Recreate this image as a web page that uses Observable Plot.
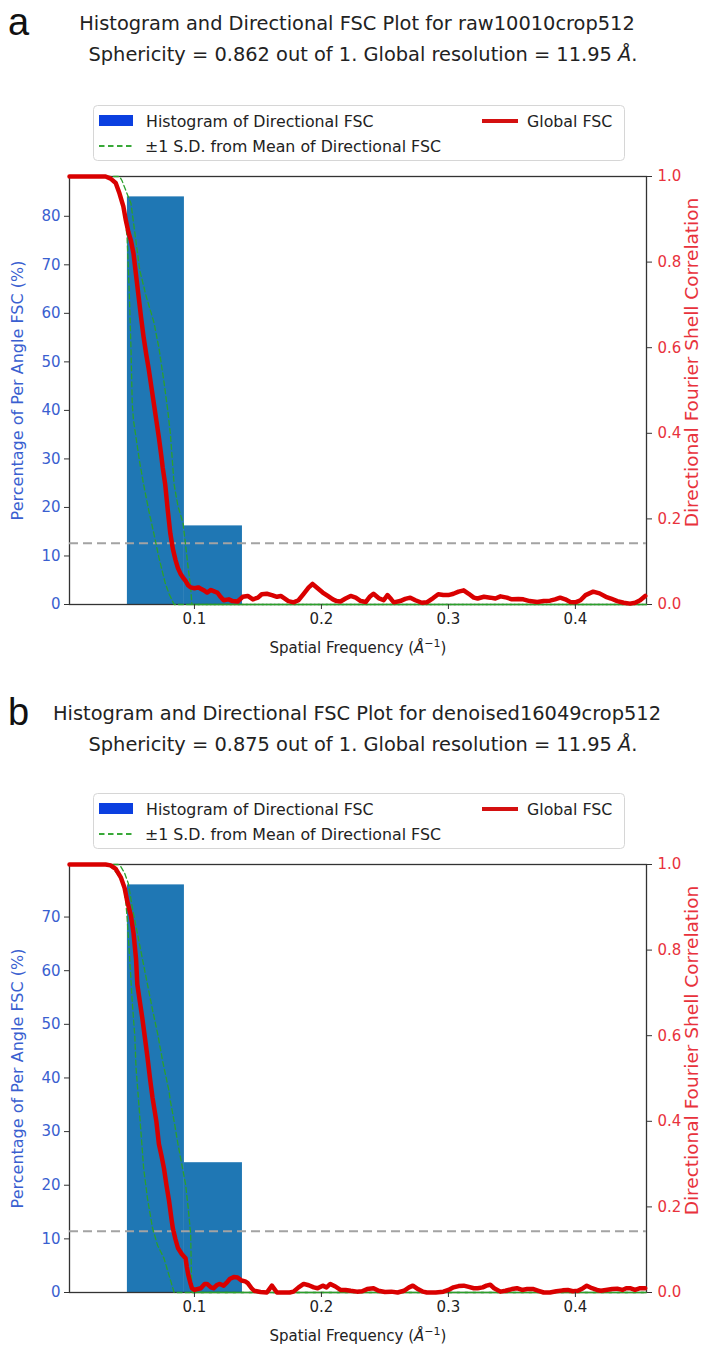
<!DOCTYPE html>
<html><head><meta charset="utf-8">
<script src="https://cdn.jsdelivr.net/npm/d3@7"></script>
<script src="https://cdn.jsdelivr.net/npm/@observablehq/plot@0.6"></script>
<style>
html,body{margin:0;padding:0;background:#fff;}
body{width:702px;height:1345px;position:relative;overflow:hidden;font-family:"DejaVu Sans",sans-serif;}
.plot{position:absolute;left:0;}
#overlay{position:absolute;left:0;top:0;}
</style></head><body>
<svg id="overlay" width="702" height="1345"></svg>
<div id="pa" class="plot" style="top:166px"></div>
<div id="pb" class="plot" style="top:854px"></div>
<script>
// ---------- DATA ----------
const panelLetters = ["a", "b"];
const titleLines = [
  "Histogram and Directional FSC Plot for raw10010crop512",
  "Histogram and Directional FSC Plot for denoised16049crop512"
];
const sphericity = ["0.862", "0.875"];
const globalResolution = ["11.95", "11.95"];
const legendLabels = ["Histogram of Directional FSC", "±1 S.D. from Mean of Directional FSC", "Global FSC"];
const xLabel = "Spatial Frequency (Å⁻¹)";
const leftLabel = "Percentage of Per Angle FSC (%)";
const rightLabel = "Directional Fourier Shell Correlation";

const histBinEdges = [0.0472, 0.0921, 0.1378];
const histPercentA = [84, 16.2];
const histPercentB = [76, 24.2];
const fscThreshold = 0.143;
const xDomain = [0.0016, 0.456];
const xTicks = [0.1, 0.2, 0.3, 0.4];
const rightTicks = [0, 0.2, 0.4, 0.6, 0.8, 1.0];
const leftTicksA = [0, 10, 20, 30, 40, 50, 60, 70, 80];
const leftTicksB = [0, 10, 20, 30, 40, 50, 60, 70];

// Panel a: global FSC
const globalFreqA = [0.0016,0.030,0.034,0.038,0.041,0.044,0.046,0.048,0.050,0.052,0.054,0.056,0.058,0.060,0.062,0.064,0.066,0.068,0.070,0.072,0.074,0.075,0.077,0.079,0.081,0.083,0.085,0.087,0.089,0.091,0.093,0.095,0.097,0.100,0.103,0.105,0.108,0.110,0.113,0.116,0.118,0.120,0.123,0.127,0.130,0.134,0.138,0.142,0.146,0.150,0.153,0.157,0.161,0.165,0.168,0.170,0.174,0.178,0.182,0.186,0.190,0.193,0.197,0.201,0.205,0.209,0.212,0.215,0.219,0.223,0.227,0.231,0.235,0.238,0.241,0.245,0.249,0.252,0.255,0.257,0.262,0.266,0.270,0.274,0.279,0.283,0.288,0.292,0.296,0.300,0.304,0.308,0.312,0.316,0.320,0.323,0.328,0.333,0.337,0.341,0.346,0.350,0.355,0.359,0.364,0.370,0.375,0.380,0.384,0.388,0.392,0.396,0.400,0.404,0.408,0.414,0.419,0.424,0.428,0.433,0.438,0.443,0.447,0.451,0.455];
const globalFscA = [1.0,1.0,0.995,0.985,0.96,0.93,0.897,0.87,0.85,0.82,0.77,0.72,0.67,0.624,0.585,0.55,0.51,0.47,0.43,0.39,0.345,0.32,0.28,0.22,0.166,0.13,0.105,0.085,0.072,0.063,0.055,0.045,0.04,0.038,0.04,0.037,0.032,0.028,0.034,0.03,0.028,0.02,0.01,0.012,0.008,0.007,0.018,0.02,0.012,0.016,0.024,0.025,0.022,0.018,0.02,0.016,0.008,0.005,0.01,0.025,0.04,0.048,0.038,0.028,0.02,0.012,0.008,0.007,0.014,0.02,0.016,0.008,0.006,0.018,0.025,0.015,0.01,0.022,0.012,0.005,0.008,0.013,0.016,0.01,0.004,0.005,0.015,0.024,0.022,0.022,0.025,0.03,0.033,0.025,0.016,0.014,0.018,0.016,0.014,0.019,0.016,0.012,0.013,0.012,0.008,0.006,0.008,0.009,0.012,0.016,0.012,0.006,0.005,0.01,0.022,0.03,0.026,0.018,0.014,0.008,0.004,0.002,0.004,0.01,0.02];
// Panel a: ±1 S.D. curves
const sdLowFreqA = [0.0016,0.029,0.033,0.037,0.040,0.043,0.045,0.047,0.048,0.049,0.050,0.051,0.052,0.054,0.057,0.060,0.064,0.068,0.072,0.077,0.080,0.084,0.456];
const sdLowFscA  = [1.0,1.0,0.995,0.985,0.97,0.945,0.91,0.857,0.78,0.7,0.6,0.47,0.43,0.39,0.33,0.28,0.22,0.166,0.11,0.05,0.025,0.0,0.0];
const sdHighFreqA = [0.0016,0.041,0.043,0.046,0.050,0.053,0.057,0.062,0.068,0.072,0.076,0.079,0.081,0.084,0.087,0.091,0.093,0.095,0.097,0.098,0.456];
const sdHighFscA  = [1.0,1.0,0.99,0.967,0.937,0.87,0.78,0.72,0.66,0.6,0.52,0.453,0.40,0.28,0.23,0.19,0.14,0.087,0.04,0.0,0.0];

// Panel b: global FSC
const globalFreqB = [0.0016,0.030,0.034,0.038,0.042,0.045,0.047,0.050,0.052,0.054,0.055,0.057,0.059,0.061,0.063,0.065,0.067,0.070,0.072,0.074,0.076,0.078,0.080,0.082,0.083,0.085,0.087,0.090,0.093,0.094,0.095,0.097,0.098,0.100,0.102,0.105,0.108,0.110,0.113,0.115,0.118,0.120,0.123,0.126,0.128,0.131,0.134,0.137,0.140,0.142,0.145,0.147,0.152,0.157,0.159,0.161,0.163,0.165,0.170,0.175,0.178,0.182,0.186,0.190,0.194,0.197,0.201,0.204,0.207,0.211,0.215,0.219,0.223,0.228,0.232,0.236,0.241,0.245,0.250,0.255,0.260,0.265,0.269,0.272,0.276,0.280,0.283,0.290,0.296,0.300,0.304,0.308,0.312,0.316,0.320,0.323,0.327,0.330,0.333,0.336,0.341,0.345,0.350,0.354,0.358,0.362,0.367,0.371,0.375,0.380,0.385,0.390,0.394,0.398,0.402,0.406,0.409,0.413,0.417,0.420,0.424,0.429,0.433,0.437,0.440,0.443,0.447,0.451,0.455];
const globalFscB = [1.0,1.0,0.998,0.99,0.97,0.945,0.915,0.88,0.84,0.78,0.72,0.68,0.64,0.595,0.55,0.5,0.455,0.4,0.347,0.32,0.29,0.25,0.214,0.17,0.15,0.125,0.104,0.09,0.08,0.06,0.043,0.02,0.01,0.006,0.008,0.01,0.02,0.02,0.012,0.01,0.018,0.02,0.016,0.025,0.032,0.036,0.035,0.028,0.026,0.022,0.01,0.004,0.001,0.0,0.008,0.016,0.008,0.0,0.0,0.0,0.002,0.012,0.02,0.017,0.012,0.01,0.016,0.012,0.02,0.014,0.006,0.006,0.004,0.002,0.003,0.008,0.01,0.004,0.001,0.002,0.0,0.004,0.012,0.016,0.008,0.002,0.0,0.0,0.002,0.006,0.012,0.015,0.016,0.013,0.01,0.01,0.012,0.016,0.018,0.01,0.002,0.004,0.008,0.01,0.006,0.008,0.008,0.004,0.0,0.0,0.003,0.005,0.006,0.003,0.004,0.01,0.016,0.01,0.006,0.004,0.006,0.008,0.009,0.006,0.01,0.01,0.006,0.01,0.01];
// Panel b: ±1 S.D. curves
const sdLowFreqB = [0.0016,0.031,0.036,0.040,0.044,0.046,0.047,0.049,0.051,0.053,0.054,0.056,0.058,0.060,0.063,0.067,0.071,0.076,0.080,0.084,0.456];
const sdLowFscB  = [1.0,1.0,0.99,0.975,0.955,0.91,0.875,0.78,0.68,0.6,0.525,0.448,0.37,0.29,0.22,0.15,0.11,0.08,0.04,0.0,0.0];
const sdHighFreqB = [0.0016,0.040,0.042,0.045,0.048,0.051,0.055,0.059,0.063,0.067,0.071,0.075,0.080,0.081,0.084,0.087,0.090,0.093,0.095,0.097,0.0975,0.098,0.456];
const sdHighFscB  = [1.0,1.0,0.995,0.98,0.955,0.9,0.84,0.78,0.72,0.66,0.605,0.54,0.47,0.448,0.4,0.347,0.3,0.253,0.2,0.137,0.06,0.0,0.0];

// ---------- STYLE ----------
const FONT = '"DejaVu Sans", sans-serif';
const BLUE_TXT = "#3a5fd0";
const RED_TXT = "#e8323c";
const BAR = "#1f77b4";
const RED_LINE = "#d90000";
const GREEN = "#2ca02c";

const panels = [
  {el: "#pa", hist: histPercentA, leftTicks: leftTicksA, gf: globalFreqA, gv: globalFscA,
   lf: sdLowFreqA, lv: sdLowFscA, hf: sdHighFreqA, hv: sdHighFscA},
  {el: "#pb", hist: histPercentB, leftTicks: leftTicksB, gf: globalFreqB, gv: globalFscB,
   lf: sdLowFreqB, lv: sdLowFscB, hf: sdHighFreqB, hv: sdHighFscB}
];

function pts(fs, vs) { return fs.map((f, i) => ({f, v: vs[i]})); }

panels.forEach(p => {
  const leftMax = Math.max(...p.hist) * 1.05;
  const bars = p.hist.map((h, i) => ({x1: histBinEdges[i], x2: histBinEdges[i + 1], y: h / leftMax}));
  const chart = Plot.plot({
    width: 702, height: 498,
    marginLeft: 69, marginRight: 56, marginTop: 10, marginBottom: 60,
    style: {fontFamily: FONT, fontSize: "15px", background: "transparent", overflow: "visible"},
    x: {domain: xDomain},
    y: {domain: [0, 1]},
    marks: [
      Plot.rect(bars, {x1: "x1", x2: "x2", y1: 0, y2: "y", fill: BAR}),
      Plot.frame({stroke: "#333", strokeWidth: 1.3}),
      Plot.ruleY([fscThreshold], {stroke: "#a3a3a3", strokeWidth: 2, strokeDasharray: "9,5"}),
      Plot.line(pts(p.lf, p.lv), {x: "f", y: "v", stroke: GREEN, strokeWidth: 1.3, strokeDasharray: "5,3"}),
      Plot.line(pts(p.hf, p.hv), {x: "f", y: "v", stroke: GREEN, strokeWidth: 1.3, strokeDasharray: "5,3", strokeDashoffset: 4}),
      Plot.line(pts(p.gf, p.gv), {x: "f", y: "v", stroke: RED_LINE, strokeWidth: 4.5}),
      Plot.axisX({ticks: xTicks, tickFormat: d3.format(".1f"), tickSize: 5, tickPadding: 4, label: null,
                  stroke: "#333", fill: "#222", fontSize: 15}),
      Plot.axisY({anchor: "left", ticks: p.leftTicks.map(t => t / leftMax),
                  tickFormat: d => String(Math.round(d * leftMax)), tickSize: 5, tickPadding: 4,
                  label: null, stroke: "#333", fill: BLUE_TXT, fontSize: 15}),
      Plot.axisY({anchor: "right", ticks: rightTicks, tickFormat: d3.format(".1f"), tickSize: 5, tickPadding: 6,
                  label: null, stroke: "#333", fill: RED_TXT, fontSize: 15}),
      Plot.text([xLabel], {frameAnchor: "bottom", dy: 44, fill: "#222", fontSize: 15, lineAnchor: "middle", className: "xlab"}),
      Plot.text([leftLabel], {frameAnchor: "left", rotate: -90, dx: -52, fill: BLUE_TXT, fontSize: 16,
                              textAnchor: "middle", lineAnchor: "middle"}),
      Plot.text([rightLabel], {frameAnchor: "right", rotate: -90, dx: 46, dy: -28, fill: RED_TXT, fontSize: 18.5,
                               textAnchor: "middle", lineAnchor: "middle"})
    ]
  });
  // x label with italic Å and superscript −1
  const xt = chart.querySelector("g.xlab text");
  if (xt) {
    xt.textContent = "";
    const NS = "http://www.w3.org/2000/svg";
    const a = document.createElementNS(NS, "tspan"); a.textContent = "Spatial Frequency (";
    const b = document.createElementNS(NS, "tspan"); b.textContent = "Å"; b.setAttribute("font-style", "italic");
    const c = document.createElementNS(NS, "tspan"); c.textContent = "−1"; c.setAttribute("dy", "-6"); c.setAttribute("font-size", "11");
    const d = document.createElementNS(NS, "tspan"); d.textContent = ")"; d.setAttribute("dy", "6");
    xt.append(a, b, c, d);
  }
  document.querySelector(p.el).append(chart);
});

// ---------- TITLES AND LEGENDS ----------
const ov = d3.select("#overlay");
const offsets = [0, 690];
const legendOffsets = [0, 688];
panelLetters.forEach((L, i) => {
  const oy = offsets[i];
  ov.append("text").attr("x", 8).attr("y", 35 + oy).attr("font-family", "Liberation Sans, Arial, sans-serif")
    .attr("font-size", 38).attr("fill", "#111").text(L);
  ov.append("text").attr("x", 357).attr("y", 30 + oy).attr("text-anchor", "middle")
    .attr("font-family", FONT).attr("font-size", 19.4).attr("fill", "#222").text(titleLines[i]);
  const st = ov.append("text").attr("x", 363).attr("y", 61 + oy).attr("text-anchor", "middle")
    .attr("font-family", FONT).attr("font-size", 19.4).attr("fill", "#222");
  st.append("tspan").text(`Sphericity = ${sphericity[i]} out of 1. Global resolution = ${globalResolution[i]} `);
  st.append("tspan").attr("font-style", "italic").text("Å");
  st.append("tspan").text(".");

  const ly = legendOffsets[i];
  const g = ov.append("g").attr("font-family", FONT).attr("font-size", 15.8).attr("fill", "#222");
  g.append("rect").attr("x", 93.5).attr("y", 105.5 + ly).attr("width", 531).attr("height", 55).attr("rx", 4)
    .attr("fill", "#fff").attr("stroke", "#d6d6d6");
  g.append("rect").attr("x", 99).attr("y", 115 + ly).attr("width", 34).attr("height", 11).attr("fill", "#0b3fe0");
  g.append("text").attr("x", 146).attr("y", 127 + ly).text(legendLabels[0]);
  g.append("line").attr("x1", 99).attr("x2", 133).attr("y1", 146 + ly).attr("y2", 146 + ly)
    .attr("stroke", "#38a838").attr("stroke-width", 1.8).attr("stroke-dasharray", "5.5,3.5");
  g.append("text").attr("x", 145).attr("y", 152 + ly).text(legendLabels[1]);
  g.append("line").attr("x1", 482).attr("x2", 518).attr("y1", 121 + ly).attr("y2", 121 + ly)
    .attr("stroke", "#d41010").attr("stroke-width", 4);
  g.append("text").attr("x", 527).attr("y", 127 + ly).text(legendLabels[2]);
});
</script>
</body></html>
